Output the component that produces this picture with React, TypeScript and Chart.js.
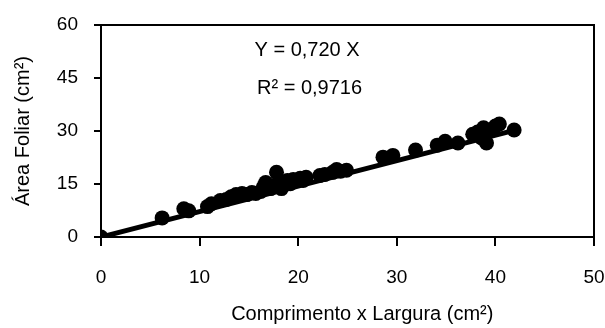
import React, { useEffect, useRef } from "react";
import { Chart, registerables } from "chart.js";

Chart.register(...registerables);

const areaX: number[] = [0, 6.2, 8.4, 8.9, 10.8, 11.2, 12.1, 12.7, 13.2, 13.7, 14.3, 14.8, 15.3, 15.7, 16.2, 16.5, 16.7, 17.2, 17.5, 17.8, 18.0, 18.3, 18.6, 18.9, 19.2, 19.5, 19.8, 20.2, 20.5, 20.8, 22.2, 22.7, 23.5, 23.9, 24.3, 24.9, 28.6, 29.6, 31.9, 34.1, 34.9, 36.2, 37.7, 38.2, 38.6, 38.8, 39.1, 39.5, 40.0, 40.4, 41.9];
const areaY: number[] = [0, 5.4, 8.0, 7.4, 8.6, 9.4, 10.3, 10.6, 11.4, 12.0, 12.3, 12.0, 12.6, 12.3, 12.9, 14.3, 15.4, 13.7, 14.6, 18.3, 14.9, 13.7, 15.1, 16.0, 15.1, 16.3, 16.0, 16.6, 16.0, 16.9, 17.4, 17.7, 18.3, 19.1, 18.6, 18.9, 22.6, 23.1, 24.6, 26.0, 27.1, 26.6, 29.1, 29.7, 28.0, 30.9, 26.6, 30.3, 31.4, 32.0, 30.3];

const slope = 0.72;
const lineX: number[] = [0, 42];
const equationText = "Y = 0,720 X";
const r2Text = "R² = 0,9716";
const xTicks: number[] = [0, 10, 20, 30, 40, 50];
const yTicks: number[] = [0, 15, 30, 45, 60];
const xTitle = "Comprimento x Largura (cm²)";
const yTitle = "Área Foliar (cm²)";

const FONT = "'Liberation Sans', Arial, Helvetica, sans-serif";

export default function App() {
  const ref = useRef<HTMLCanvasElement>(null);
  useEffect(() => {
    if (!ref.current) return;
    const boxPlugin = {
      id: "boxAndText",
      afterDraw(chart: any) {
        const { ctx, chartArea, scales } = chart;
        ctx.save();
        ctx.strokeStyle = "#000";
        ctx.lineWidth = 2;
        ctx.beginPath();
        ctx.moveTo(chartArea.left, chartArea.top);
        ctx.lineTo(chartArea.right, chartArea.top);
        ctx.lineTo(chartArea.right, chartArea.bottom);
        ctx.stroke();
        ctx.fillStyle = "#000";
        ctx.font = `20px ${FONT}`;
        ctx.textAlign = "center";
        ctx.textBaseline = "middle";
        ctx.fillText(equationText, scales.x.getPixelForValue(20.9), scales.y.getPixelForValue(52.8));
        ctx.fillText(r2Text, scales.x.getPixelForValue(21.15), scales.y.getPixelForValue(42.1));
        ctx.fillText(xTitle, scales.x.getPixelForValue(26.5), chart.height - 14);
        ctx.restore();
      },
    };
    const chart = new Chart(ref.current, {
      type: "scatter",
      data: {
        datasets: [
          {
            type: "line",
            data: lineX.map((x) => ({ x, y: slope * x })),
            borderColor: "#000",
            borderWidth: 5,
            pointRadius: 0,
            fill: false,
          } as any,
          {
            data: areaX.map((x, i) => ({ x, y: areaY[i] })),
            backgroundColor: "#000",
            borderColor: "#000",
            pointRadius: 7.5,
            pointBorderWidth: 0,
          },
        ],
      },
      options: {
        animation: false,
        responsive: false,
        maintainAspectRatio: false,
        layout: { padding: { top: 25, right: 11, left: 0, bottom: 0 } },
        plugins: { legend: { display: false }, tooltip: { enabled: false } },
        scales: {
          x: {
            type: "linear",
            min: 0,
            max: 50,
            afterBuildTicks: (s: any) => { s.ticks = xTicks.map((v) => ({ value: v })); },
            afterFit: (s: any) => { s.height = 91; s.paddingLeft = 0; s.paddingRight = 0; },
            grid: { drawOnChartArea: false, drawTicks: true, tickLength: 9, color: "#000", lineWidth: 2 },
            border: { display: true, color: "#000", width: 2 },
            ticks: { color: "#000", font: { family: FONT, size: 19 }, padding: 20, maxRotation: 0 },
            title: { display: false },
          },
          y: {
            type: "linear",
            min: 0,
            max: 60,
            afterBuildTicks: (s: any) => { s.ticks = yTicks.map((v) => ({ value: v })); },
            afterFit: (s: any) => { s.width = 101; s.paddingTop = 0; s.paddingBottom = 0; },
            grid: { drawOnChartArea: false, drawTicks: true, tickLength: 7, color: "#000", lineWidth: 2 },
            border: { display: true, color: "#000", width: 2 },
            ticks: { color: "#000", font: { family: FONT, size: 19 }, padding: 16 },
            title: { display: true, text: yTitle, color: "#000", font: { family: FONT, size: 20 }, padding: { top: 11, bottom: 4 } },
          },
        },
      },
      plugins: [boxPlugin],
    });
    return () => chart.destroy();
  }, []);
  return (
    <div style={{ position: "fixed", left: 0, top: 0, width: 605, height: 328, background: "#fff" }}>
      <canvas ref={ref} width={605} height={328} style={{ width: 605, height: 328 }} />
    </div>
  );
}
